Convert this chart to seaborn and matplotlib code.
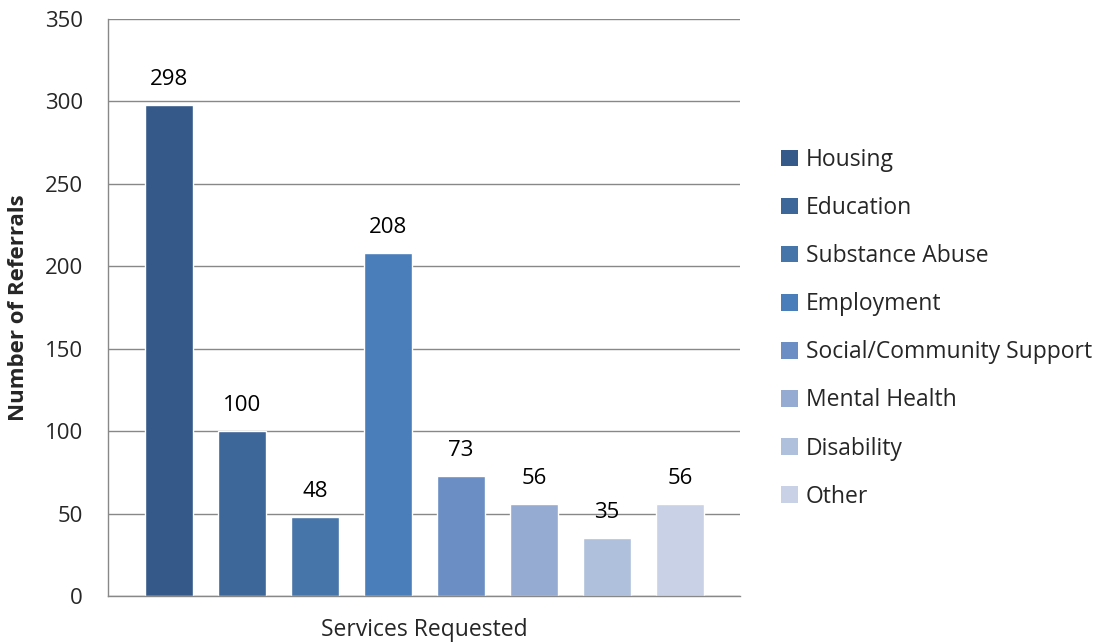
import matplotlib
matplotlib.use("Agg")
import matplotlib.pyplot as plt
import seaborn as sns
import pandas as pd
from matplotlib.patches import Patch

services = ["Housing", "Education", "Substance Abuse", "Employment",
            "Social/Community Support", "Mental Health", "Disability", "Other"]
referrals = [298, 100, 48, 208, 73, 56, 35, 56]
colors = ["#355A8A", "#3D6699", "#4675AA", "#4A7EBB",
          "#6B8FC4", "#95ABD2", "#AFC0DC", "#C8D1E5"]
y_ticks = [0, 50, 100, 150, 200, 250, 300, 350]

sns.set_style("white")
plt.rcParams["font.family"] = ["Open Sans", "DejaVu Sans"]

df = pd.DataFrame({"service": services, "referrals": referrals})

fig = plt.figure(figsize=(11.01, 6.42), dpi=100)
ax = fig.add_axes([108 / 1101, 1 - 596 / 642, (740 - 108) / 1101, (596 - 19) / 642])

sns.barplot(data=df, x="service", y="referrals", hue="service",
            palette=colors, order=services, hue_order=services,
            width=0.66, dodge=False, legend=False, ax=ax, saturation=1)

for i, v in enumerate(referrals):
    ax.text(i, v + 9, str(v), ha="center", va="bottom", fontsize=16, color="#000000")

ax.set_ylim(0, 350)
ax.set_xlim(-0.836, 7.822)
ax.set_yticks(y_ticks)
ax.set_yticklabels([str(t) for t in y_ticks], fontsize=16)
ax.set_xticks([-0.836, 7.822])
ax.set_xticklabels(["", ""])
ax.tick_params(axis="y", direction="out", length=7, color="#888888", width=1, pad=11)
ax.tick_params(axis="x", direction="out", length=7, color="#888888", width=1)
ax.yaxis.grid(True, color="#888888", linewidth=1)
ax.set_axisbelow(True)
for s in ["top", "right"]:
    ax.spines[s].set_visible(False)
for s in ["left", "bottom"]:
    ax.spines[s].set_color("#888888")
    ax.spines[s].set_linewidth(1)

ax.set_xlabel("Services Requested", fontsize=16.5, labelpad=5)
ax.set_ylabel("Number of Referrals", fontsize=16, fontweight="bold", va="center")
ax.yaxis.set_label_coords(-0.142, 0.5)

handles = [Patch(facecolor=c, edgecolor="none") for c in colors]
fig.legend(handles, services, loc="upper left", bbox_to_anchor=(772 / 1101, 1 - 139 / 642),
           frameon=False, fontsize=16.5, handlelength=0.72, handleheight=0.72,
           handletextpad=0.35, labelspacing=1.05, borderaxespad=0)

fig.savefig("out.png", dpi=100)
